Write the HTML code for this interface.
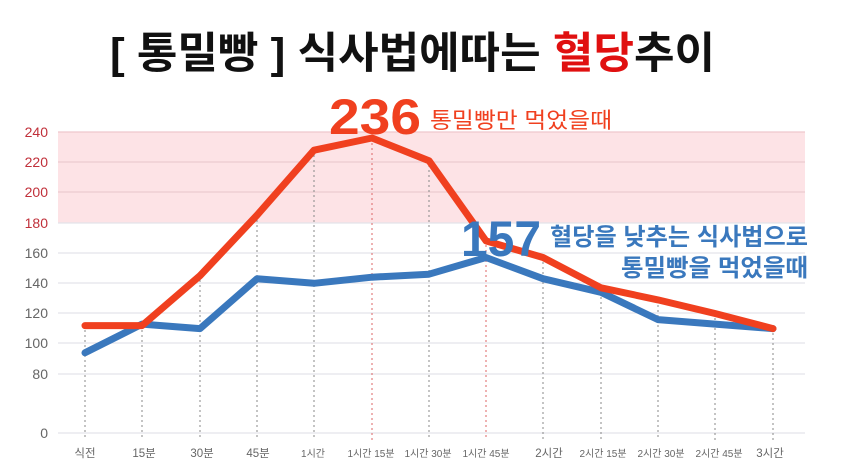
<!DOCTYPE html>
<html><head><meta charset="utf-8"><style>
html,body{margin:0;padding:0;background:#fff;}
svg{display:block;font-family:"Liberation Sans","Noto Sans CJK KR",sans-serif;}
</style></head><body>
<svg width="845" height="471" viewBox="0 0 845 471">
<rect x="58" y="132" width="747" height="91" fill="#fde3e6"/>
<g stroke="#e3e3ea" stroke-width="1.2">
<line x1="58" y1="132" x2="805" y2="132" stroke="#efc8cd"/>
<line x1="58" y1="162" x2="805" y2="162" stroke="#eccbd0"/>
<line x1="58" y1="192" x2="805" y2="192" stroke="#eccbd0"/>
<line x1="58" y1="223" x2="805" y2="223"/>
<line x1="58" y1="253" x2="805" y2="253"/>
<line x1="58" y1="283" x2="805" y2="283"/>
<line x1="58" y1="313" x2="805" y2="313"/>
<line x1="58" y1="343" x2="805" y2="343"/>
<line x1="58" y1="374" x2="805" y2="374"/>
<line x1="58" y1="433" x2="805" y2="433"/>
</g>
<g stroke="#888" stroke-width="1" stroke-dasharray="2,3">
<line x1="85" y1="325" x2="85" y2="440"/><line x1="142" y1="325" x2="142" y2="440"/>
<line x1="200" y1="275" x2="200" y2="440"/><line x1="257" y1="215" x2="257" y2="440"/>
<line x1="314" y1="150" x2="314" y2="440"/><line x1="372" y1="138" x2="372" y2="440" stroke="#d66"/>
<line x1="429" y1="160" x2="429" y2="440"/><line x1="486" y1="240" x2="486" y2="440" stroke="#d66"/>
<line x1="543" y1="257" x2="543" y2="440"/><line x1="601" y1="287" x2="601" y2="440"/>
<line x1="658" y1="300" x2="658" y2="440"/><line x1="715" y1="313" x2="715" y2="440"/>
<line x1="773" y1="328" x2="773" y2="440"/>
</g>
<g font-size="14" text-anchor="end">
<text x="48" y="137" fill="#c0303a">240</text><text x="48" y="167" fill="#c0303a">220</text>
<text x="48" y="197" fill="#c0303a">200</text><text x="48" y="228" fill="#c0303a">180</text>
<g fill="#666"><text x="48" y="258">160</text><text x="48" y="288">140</text><text x="48" y="318">120</text>
<text x="48" y="348">100</text><text x="48" y="379">80</text><text x="48" y="438">0</text></g>
</g>
<g font-size="11.5" fill="#666" text-anchor="middle">
<text x="85" y="457">식전</text><text x="144" y="457">15분</text><text x="202" y="457">30분</text><text x="258" y="457">45분</text>
<text x="313" y="457" font-size="10">1시간</text><text x="371" y="457" font-size="10">1시간 15분</text><text x="428" y="457" font-size="10">1시간 30분</text>
<text x="486" y="457" font-size="10">1시간 45분</text><text x="549" y="457">2시간</text><text x="603" y="457" font-size="10">2시간 15분</text>
<text x="661" y="457" font-size="10">2시간 30분</text><text x="719" y="457" font-size="10">2시간 45분</text><text x="770" y="457">3시간</text>
</g>
<polyline fill="none" stroke="#3a78bd" stroke-width="7" stroke-linejoin="round" stroke-linecap="round"
points="85,352.8 142,324.1 200,328.6 257,278.7 314,283.3 372,277.2 429,274.2 486,257.5 543,278.7 601,292.3 658,319.6 715,324.1 773,328.6"/>
<polyline fill="none" stroke="#f0401f" stroke-width="7" stroke-linejoin="round" stroke-linecap="round"
points="85,325.6 142,325.6 200,275.7 257,215.2 314,150.2 372,138 429,160.7 486,240.9 543,257.5 601,287.8 658,299.9 715,313.5 773,328.6"/>
<text x="110" y="68" font-size="43" font-weight="bold" fill="#111" textLength="605" lengthAdjust="spacingAndGlyphs">[ 통밀빵 ] 식사법에따는 <tspan fill="#e01010">혈당</tspan>추이</text>
<text x="329" y="134" font-size="50" font-weight="bold" fill="#f0401f" textLength="92" lengthAdjust="spacingAndGlyphs">236</text>
<text x="430" y="128" font-size="22" fill="#f0401f" textLength="182" lengthAdjust="spacingAndGlyphs">통밀빵만 먹었을때</text>
<text x="461" y="256" font-size="50" font-weight="bold" fill="#3a78bd" textLength="80" lengthAdjust="spacingAndGlyphs">157</text>
<text x="550" y="245" font-size="24" font-weight="bold" fill="#3a78bd" textLength="258" lengthAdjust="spacingAndGlyphs">혈당을 낮추는 식사법으로</text>
<text x="621" y="276" font-size="24" font-weight="bold" fill="#3a78bd" textLength="187" lengthAdjust="spacingAndGlyphs">통밀빵을 먹었을때</text>
</svg>
</body></html>
